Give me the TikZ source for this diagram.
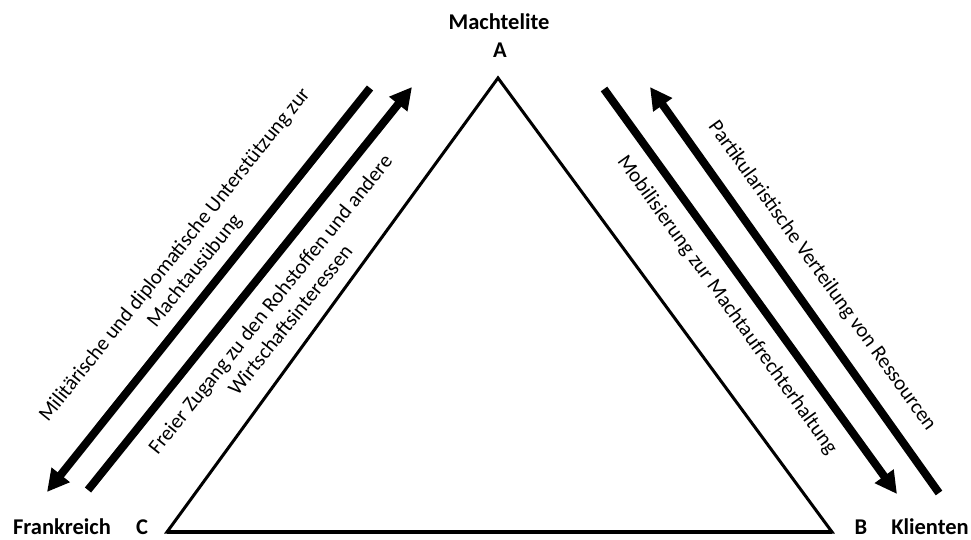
\documentclass[tikz,border=0pt]{standalone}
\usepackage{fontspec}
\setmainfont{Carlito}
\usetikzlibrary{arrows.meta}
\begin{document}
\begin{tikzpicture}[x=1pt,y=-1pt,
  corner/.style={font=\bfseries\fontsize{22.5}{26}\selectfont, inner sep=0pt, anchor=base},
  flow/.style={line width=8pt, -{Triangle[length=22pt,width=22pt]}},
  lbl/.style={font=\fontsize{21}{25.5}\selectfont, align=center, inner sep=0pt}]
\useasboundingbox (0,0) rectangle (971,540);
% triangle
\coordinate (A) at (498,78);
\coordinate (B) at (832,532);
\coordinate (C) at (167,532);
\draw[line width=3pt, line join=miter] (A) -- (B) -- (C) -- cycle;
\draw[line width=4.5pt] (C) -- (B);
% corner labels
\node[corner] (machtelite) at (499,30) {Machtelite};
\node[corner] (la) at (500,58) {A};
\node[corner] (frankreich) at (62,534) {Frankreich};
\node[corner] (lc) at (142,534) {C};
\node[corner] (lb) at (861,534) {B};
\node[corner] (klienten) at (930,534) {Klienten};
% arrow end points
\coordinate (a1s) at (370,88);
\coordinate (a1e) at (47,492);
\coordinate (a2s) at (88,490);
\coordinate (a2e) at (412,87);
\coordinate (a3s) at (604,89);
\coordinate (a3e) at (897,494);
\coordinate (a4s) at (939,493);
\coordinate (a4e) at (650,87);
\draw[flow] (a1s) -- (a1e);
\draw[flow] (a2s) -- (a2e);
\draw[flow] (a3s) -- (a3e);
\draw[flow] (a4s) -- (a4e);
% labels
\node[lbl, rotate=51.3] (t1) at (185,263) {Militärische und diplomatische Unterstützung zur\\Machtausübung};
\node[lbl, rotate=51.3] (t2) at (280,312) {Freier Zugang zu den Rohstoffen und andere\\Wirtschaftsinteressen};
\node[lbl, rotate=-54.3] (t3) at (727,305) {Mobilisierung zur Machtaufrechterhaltung};
\node[lbl, rotate=-54.3] (t4) at (822,276) {Partikularistische Verteilung von Ressourcen};
\end{tikzpicture}
\end{document}
